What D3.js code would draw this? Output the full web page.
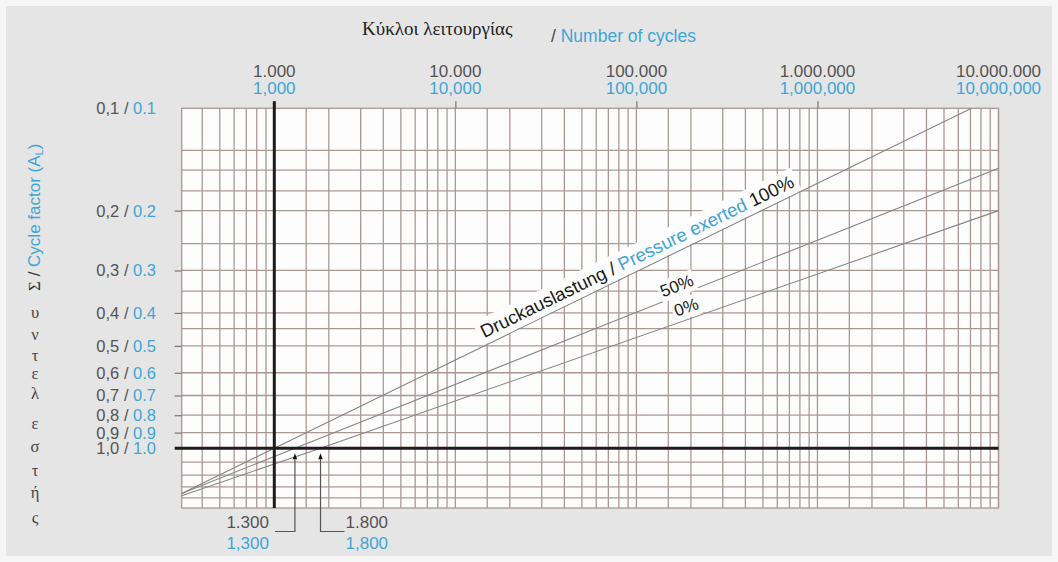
<!DOCTYPE html>
<html>
<head>
<meta charset="utf-8">
<script src="https://cdn.jsdelivr.net/npm/d3@7"></script>
<style>
  html, body { margin: 0; padding: 0; background: #f6f6f6; }
  svg { display: block; }
</style>
</head>
<body>
<svg id="chart" width="1058" height="562"></svg>
<script>
// ---- axis ticks and labels ----
const cycleTicks = [1000, 10000, 100000, 1000000, 10000000];
const cycleLabelsDe = ["1.000", "10.000", "100.000", "1.000.000", "10.000.000"];
const cycleLabelsEn = ["1,000", "10,000", "100,000", "1,000,000", "10,000,000"];

const factorTicks = [0.1, 0.2, 0.3, 0.4, 0.5, 0.6, 0.7, 0.8, 0.9, 1.0];
const factorLabelsDe = ["0,1", "0,2", "0,3", "0,4", "0,5", "0,6", "0,7", "0,8", "0,9", "1,0"];
const factorLabelsEn = ["0.1", "0.2", "0.3", "0.4", "0.5", "0.6", "0.7", "0.8", "0.9", "1.0"];

// grid: mantissas per decade of cycles, and cycle-factor rulings
const cycleGridSteps = [1, 1.5, 2, 3, 4, 5, 6, 7, 8, 9];
const cycleDecades = [100, 1000, 10000, 100000, 1000000, 10000000];
const factorGrid = [0.133, 0.152, 0.175, 0.2, 0.25, 0.3, 0.345, 0.4, 0.445, 0.5,
                    0.6, 0.7, 0.8, 0.9, 1.0, 1.1, 1.2, 1.3, 1.4];

// ---- curves: [number of cycles, cycle factor A_L] per pressure load ----
const load100 = [[308, 1.36], [1000, 1.0], [7100000, 0.1]];
const load50  = [[308, 1.36], [1300, 1.0], [10000000, 0.15]];
const load0   = [[308, 1.38], [1800, 1.0], [10000000, 0.2]];

// cycle counts reached at A_L = 1.0 for 50 % and 0 % load
const markedCycles = [1300, 1800];
const markedLabelsDe = ["1.300", "1.800"];
const markedLabelsEn = ["1,300", "1,800"];

// ---- styling ----
const BLUE = "#3ea5d8";
const GREY_TXT = "#545454";
const GRID = "#ab9893";
const SANS = "'Liberation Sans', Arial, sans-serif";
const SERIF = "'Liberation Serif', 'DejaVu Serif', serif";

const svg = d3.select("#chart");

// panel background
svg.append("rect").attr("x", 6).attr("y", 6).attr("width", 1046).attr("height", 550)
  .attr("fill", "#e5e5e5");

const x = d3.scaleLog().domain([308, 10000000]).range([181.7, 998.5]);
const y = d3.scaleLog().domain([0.1, 1.5]).range([108.3, 508]);

const [x0, x1] = x.range();
const [y0, y1] = y.range();

// plot area
svg.append("rect").attr("x", x0).attr("y", y0).attr("width", x1 - x0).attr("height", y1 - y0)
  .attr("fill", "#fdfdfd");

const grid = svg.append("g").attr("stroke", GRID).attr("stroke-width", 1.3).attr("fill", "none");

// vertical rulings
const vLines = [];
cycleDecades.forEach(d => cycleGridSteps.forEach(s => {
  const v = d * s;
  if (v >= x.domain()[0] && v <= x.domain()[1]) vLines.push(v);
}));
grid.selectAll("line.v").data(vLines).join("line").attr("class", "v")
  .attr("x1", d => x(d)).attr("x2", d => x(d)).attr("y1", y0).attr("y2", y1);

// horizontal rulings
grid.selectAll("line.h").data(factorGrid).join("line").attr("class", "h")
  .attr("x1", x0).attr("x2", x1).attr("y1", d => y(d)).attr("y2", d => y(d));

// frame
grid.append("rect").attr("x", x0).attr("y", y0).attr("width", x1 - x0).attr("height", y1 - y0);

// top axis ticks
const topAxis = d3.axisTop(x).tickValues(cycleTicks.slice(0, 4)).tickSize(7).tickFormat("");
svg.append("g").attr("transform", `translate(0,${y0})`).call(topAxis)
  .call(g => g.select(".domain").remove())
  .call(g => g.selectAll("line").attr("stroke", "#777").attr("stroke-width", 1.2));

// left axis ticks
const leftAxis = d3.axisLeft(y).tickValues(factorTicks.slice(1, 9)).tickSize(7).tickFormat("");
svg.append("g").attr("transform", `translate(${x0},0)`).call(leftAxis)
  .call(g => g.select(".domain").remove())
  .call(g => g.selectAll("line").attr("stroke", "#777").attr("stroke-width", 1.2));

// top tick labels (two languages)
const topLab = svg.append("g").attr("font-family", SANS).attr("font-size", 17).attr("text-anchor", "middle");
topLab.selectAll("text.de").data(cycleTicks).join("text").attr("class", "de")
  .attr("x", d => x(d)).attr("y", 77).attr("fill", GREY_TXT)
  .text((d, i) => cycleLabelsDe[i]);
topLab.selectAll("text.en").data(cycleTicks).join("text").attr("class", "en")
  .attr("x", d => x(d)).attr("y", 94).attr("fill", BLUE)
  .text((d, i) => cycleLabelsEn[i]);

// left tick labels
const leftLab = svg.append("g").attr("font-family", SANS).attr("font-size", 16.5).attr("text-anchor", "end");
const lt = leftLab.selectAll("text").data(factorTicks).join("text")
  .attr("x", 156).attr("y", d => y(d)).attr("dy", "0.36em");
lt.append("tspan").attr("fill", GREY_TXT).text((d, i) => factorLabelsDe[i] + " / ");
lt.append("tspan").attr("fill", BLUE).text((d, i) => factorLabelsEn[i]);

// axis titles
const title = svg.append("g");
title.append("text").attr("x", 362).attr("y", 35).attr("font-family", SERIF).attr("font-size", 19)
  .attr("fill", "#222").text("Κύκλοι λειτουργίας");
title.append("text").attr("x", 551).attr("y", 42).attr("font-family", SANS).attr("font-size", 17.5)
  .attr("fill", BLUE)
  .call(t => t.append("tspan").attr("fill", "#444").text("/ "))
  .call(t => t.append("tspan").text("Number of cycles"));

// vertical axis title: rotated head, then stacked letters
const yt = svg.append("text").attr("transform", "translate(40,291) rotate(-90)")
  .attr("font-size", 17);
yt.append("tspan").attr("font-family", SERIF).attr("fill", "#333").text("Σ");
yt.append("tspan").attr("font-family", SANS).attr("fill", "#333").text(" / ");
yt.append("tspan").attr("font-family", SANS).attr("fill", BLUE).text("Cycle factor (A");
yt.append("tspan").attr("font-family", SANS).attr("fill", BLUE).attr("font-size", 11).attr("dy", 3).text("L");
yt.append("tspan").attr("font-family", SANS).attr("fill", BLUE).attr("dy", -3).text(")");

const stacked = ["υ", "ν", "τ", "ε", "λ", "ε", "σ", "τ", "ή", "ς"];
const stackedY = [313, 335, 356, 374, 394, 424, 447, 471, 493, 518];
svg.append("g").attr("font-family", SERIF).attr("font-size", 16.5).attr("fill", "#444")
  .attr("text-anchor", "middle")
  .selectAll("text").data(stacked).join("text")
  .attr("x", 35).attr("y", (d, i) => stackedY[i]).attr("dy", "0.3em").text(d => d);

// curves
const line = d3.line().x(d => x(d[0])).y(d => y(d[1]));
svg.append("g").attr("fill", "none").attr("stroke", "#858585").attr("stroke-width", 1.1)
  .selectAll("path").data([load100, load50, load0]).join("path").attr("d", line);

// heavy reference cross at 1000 cycles / A_L = 1.0
svg.append("line").attr("x1", x(1000)).attr("x2", x(1000)).attr("y1", y0 - 7).attr("y2", y1)
  .attr("stroke", "#1c1c1c").attr("stroke-width", 3);
svg.append("line").attr("x1", x0 - 7).attr("x2", x1).attr("y1", y(1.0)).attr("y2", y(1.0))
  .attr("stroke", "#1c1c1c").attr("stroke-width", 3);

// curve labels with white backing
function angleOf(series) {
  const a = series[0], b = series[series.length - 1];
  return Math.atan2(y(b[1]) - y(a[1]), x(b[0]) - x(a[0])) * 180 / Math.PI;
}
function valueAt(series, n) {
  // straight in log-log between the outer points
  const a = series[0], b = series[series.length - 1];
  const t = (Math.log(n) - Math.log(a[0])) / (Math.log(b[0]) - Math.log(a[0]));
  return Math.exp(Math.log(a[1]) + t * (Math.log(b[1]) - Math.log(a[1])));
}
function curveLabel(series, n, offset, anchor, parts, size, pad) {
  const ang = angleOf(series);
  const g = svg.append("g")
    .attr("transform", `translate(${x(n)},${y(valueAt(series, n))}) rotate(${ang})`);
  const bg = g.append("rect").attr("fill", "#fdfdfd");
  const t = g.append("text").attr("y", -offset).attr("font-family", SANS).attr("font-size", size)
    .attr("text-anchor", anchor);
  parts.forEach(p => t.append("tspan").attr("fill", p[1]).text(p[0]));
  const bb = t.node().getBBox();
  bg.attr("x", bb.x - pad).attr("y", bb.y - pad / 2).attr("width", bb.width + 2 * pad)
    .attr("height", bb.height + pad);
}
curveLabel(load100, 15000, 7, "start",
  [["Druckauslastung / ", "#1a1a1a"], ["Pressure exerted", BLUE], [" 100%", "#1a1a1a"]], 18.5, 4);
curveLabel(load50, 175000, 4, "middle", [["50%", "#1a1a1a"]], 17, 2);
curveLabel(load0, 198000, 6, "middle", [["0%", "#1a1a1a"]], 17, 2);

// markers where the 50 % and 0 % curves reach A_L = 1.0
const mk = svg.append("g");
const yRef = y(1.0);
mk.selectAll("path.arrow").data(markedCycles).join("path").attr("class", "arrow")
  .attr("d", d => `M${x(d)},${yRef + 5} l-2.2,6 l4.4,0 z`).attr("fill", "#111");
mk.selectAll("path.bracket").data(markedCycles).join("path").attr("class", "bracket")
  .attr("d", (d, i) => `M${x(d)},${yRef + 11} V531.5 h${i === 0 ? -20 : 24}`)
  .attr("fill", "none").attr("stroke", "#555").attr("stroke-width", 1.2);
const mkLab = mk.append("g").attr("font-family", SANS).attr("font-size", 17);
mkLab.selectAll("text.de").data(markedCycles).join("text").attr("class", "de")
  .attr("x", (d, i) => i === 0 ? x(d) - 26 : x(d) + 25).attr("y", 528)
  .attr("text-anchor", (d, i) => i === 0 ? "end" : "start")
  .attr("fill", GREY_TXT).text((d, i) => markedLabelsDe[i]);
mkLab.selectAll("text.en").data(markedCycles).join("text").attr("class", "en")
  .attr("x", (d, i) => i === 0 ? x(d) - 26 : x(d) + 25).attr("y", 549)
  .attr("text-anchor", (d, i) => i === 0 ? "end" : "start")
  .attr("fill", BLUE).text((d, i) => markedLabelsEn[i]);
</script>
</body>
</html>
